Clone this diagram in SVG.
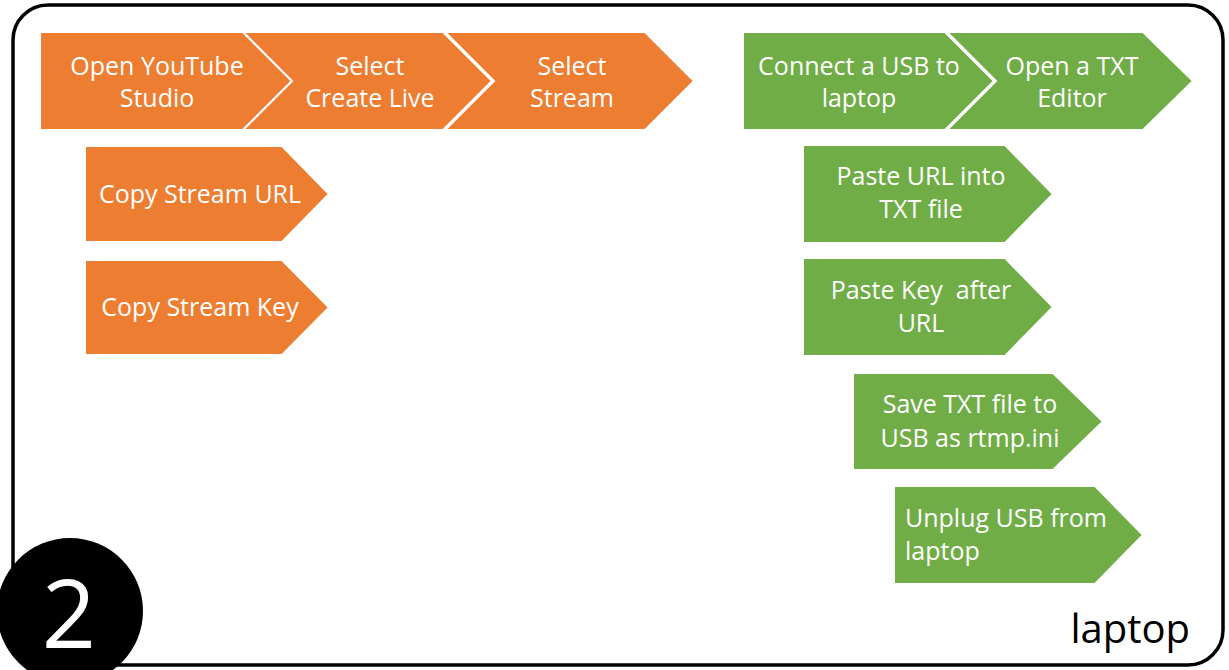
<svg xmlns="http://www.w3.org/2000/svg" width="1229" height="670" viewBox="0 0 1229 670">
<style>
.o{fill:#ED7D31;stroke:#FFFFFF;stroke-width:2;stroke-linejoin:miter}
.g{fill:#70AD47;stroke:#FFFFFF;stroke-width:2;stroke-linejoin:miter}
.t{font-family:"Open Sans","Liberation Sans",sans-serif;font-size:25px;fill:#FFFFFF;text-anchor:middle}
.tl{font-family:"Open Sans","Liberation Sans",sans-serif;font-size:25px;fill:#FFFFFF;text-anchor:start}
</style>
<rect x="0" y="0" width="1229" height="670" fill="#FFFFFF"/>
<rect id="frame" x="13" y="5" width="1210" height="660" rx="35" ry="35" fill="#FFFFFF" stroke="#000000" stroke-width="3.5"/>
<g id="connectors"/>
<g id="n-open-youtube">
<polygon class="o" points="40,32 243,32 292,81 243,130 40,130"/>
<text class="t" x="157" y="75">Open YouTube</text>
<text class="t" x="157" y="107">Studio</text>
</g>
<g id="n-select-create-live">
<polygon class="o" points="243,32 443,32 492,81 443,130 243,130 292,81"/>
<text class="t" x="370" y="75">Select</text>
<text class="t" x="370" y="107">Create Live</text>
</g>
<g id="n-select-stream">
<polygon class="o" points="445,32 645,32 694,81 645,130 445,130 494,81"/>
<text class="t" x="572" y="75">Select</text>
<text class="t" x="572" y="107">Stream</text>
</g>
<g id="n-copy-url">
<polygon class="o" points="85,146 282,146 329,194 282,242 85,242"/>
<text class="t" x="200" y="203">Copy Stream URL</text>
</g>
<g id="n-copy-key">
<polygon class="o" points="85,260 282,260 329,307.5 282,355 85,355"/>
<text class="t" x="200" y="316">Copy Stream Key</text>
</g>
<g id="n-connect-usb">
<polygon class="g" points="743,32 945,32 994,81 945,130 743,130"/>
<text class="t" x="859" y="75">Connect a USB to</text>
<text class="t" x="859" y="107">laptop</text>
</g>
<g id="n-open-txt">
<polygon class="g" points="947,32 1143,32 1193,81 1143,130 947,130 996,81"/>
<text class="t" x="1072" y="75">Open a TXT</text>
<text class="t" x="1072" y="107">Editor</text>
</g>
<g id="n-paste-url">
<polygon class="g" points="803,145 1005,145 1053,194 1005,243 803,243"/>
<text class="t" x="921" y="185">Paste URL into</text>
<text class="t" x="921" y="218">TXT file</text>
</g>
<g id="n-paste-key">
<polygon class="g" points="803,258 1005,258 1053,307 1005,356 803,356"/>
<text class="t" x="921" y="299" xml:space="preserve">Paste Key  after</text>
<text class="t" x="921" y="332">URL</text>
</g>
<g id="n-save-txt">
<polygon class="g" points="853,373 1053,373 1103,421.5 1053,470 853,470"/>
<text class="t" x="970" y="413">Save TXT file to</text>
<text class="t" x="970" y="447">USB as rtmp.ini</text>
</g>
<g id="n-unplug">
<polygon class="g" points="894,486 1095,486 1143,535 1095,584 894,584"/>
<text class="tl" x="905" y="527">Unplug USB from</text>
<text class="tl" x="905" y="560">laptop</text>
</g>
<g id="step-badge">
<circle cx="70" cy="611" r="73" fill="#000000"/>
<text x="69" y="648" font-family="'Open Sans','Liberation Sans',sans-serif" font-size="95" fill="#FFFFFF" text-anchor="middle">2</text>
</g>
<g id="label-laptop">
<text x="1190" y="643" font-family="'Open Sans','Liberation Sans',sans-serif" font-size="40" fill="#000000" text-anchor="end">laptop</text>
</g>
</svg>
